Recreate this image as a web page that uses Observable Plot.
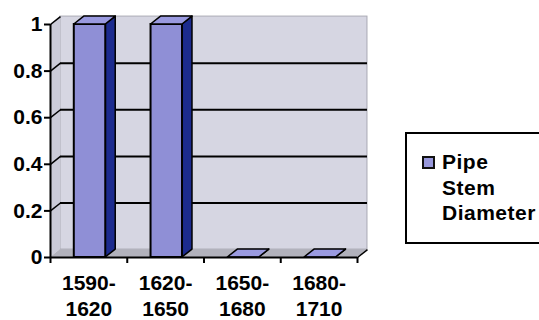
<!DOCTYPE html>
<html>
<head>
<meta charset="utf-8">
<script src="https://cdn.jsdelivr.net/npm/d3@7"></script>
<script src="https://cdn.jsdelivr.net/npm/@observablehq/plot@0.6"></script>
<style>
  html, body { margin: 0; padding: 0; background: #fff; }
  #wrap { position: relative; width: 539px; height: 320px; overflow: hidden; font-family: "Liberation Sans", Arial, sans-serif; }
  #legend { position: absolute; left: 405px; top: 132px; width: 150px; height: 108px; border: 2px solid #000; background: #fff; }
  #legend .sw { position: absolute; left: 15px; top: 22px; width: 9px; height: 9px; border: 2px solid #111; background: #9898dc; }
  #legend .tx { position: absolute; left: 35px; top: 15px; font-size: 21px; letter-spacing: 0.5px; font-weight: bold; line-height: 25.5px; color: #000; }
</style>
</head>
<body>
<div id="wrap"><div id="chart"></div>
<div id="legend"><div class="sw"></div><div class="tx">Pipe<br>Stem<br>Diameter</div></div>
</div>
<script>
const categories = ["1590-\n1620", "1620-\n1650", "1650-\n1680", "1680-\n1710"];
const values = [1, 1, 0, 0];
const yTicks = [0, 0.2, 0.4, 0.6, 0.8, 1];
const seriesName = "Pipe Stem Diameter";

// 3D depth offsets expressed in data units (x: category index, y: value)
const D = 0.13, E = 0.034;
const bars = values.map((v, i) => ({v, x1: i + 0.31, x2: i + 0.72}));

const sidePts = bars.flatMap((b, i) => [
  {k: i, x: b.x2, y1: 0, y2: b.v},
  {k: i, x: b.x2 + D, y1: E, y2: b.v + E}
]);
const topPts = bars.flatMap((b, i) => [
  {k: i, x: b.x1, y1: b.v, y2: b.v},
  {k: i, x: b.x1 + D, y1: b.v, y2: b.v + E},
  {k: i, x: b.x2, y1: b.v, y2: b.v + E},
  {k: i, x: b.x2 + D, y1: b.v + E, y2: b.v + E}
]);
const n = categories.length;
const floorPts = [
  {x: 0, y1: 0, y2: 0}, {x: D, y1: 0, y2: E}, {x: n, y1: 0, y2: E}, {x: n + D, y1: E, y2: E}
];
const leftWall = [{x: 0, y1: 0, y2: 1}, {x: D, y1: E, y2: 1 + E}];
const font = {fontSize: 21, fontWeight: "bold", fontFamily: "'Liberation Sans', Arial, sans-serif"};

const marks = [
  Plot.rect([0], {x1: () => D, x2: () => n + D, y1: () => E, y2: () => 1 + E, fill: "#d6d6e2", stroke: "#aaaab4", strokeWidth: 1}),
  Plot.areaY(leftWall, {x: "x", y1: "y1", y2: "y2", fill: "#cbcbd8"}),
  Plot.areaY(floorPts, {x: "x", y1: "y1", y2: "y2", fill: "#b2b2bc"}),
  Plot.ruleY(yTicks.filter(t => t > 0 && t < 1), {x1: () => D, x2: () => n + D, y: d => d + E, stroke: "#000", strokeWidth: 2}),
  Plot.link(yTicks.filter(t => t > 0), {x1: () => 0, y1: d => d, x2: () => D, y2: d => d + E, stroke: "#000", strokeWidth: 1.5}),
  Plot.areaY(sidePts, {x: "x", y1: "y1", y2: "y2", z: "k", fill: "#1c2b8e", stroke: "#000", strokeWidth: 1.5}),
  Plot.rect(bars, {x1: "x1", x2: "x2", y1: () => 0, y2: "v", fill: "#8f8fd6", stroke: "#000", strokeWidth: 2}),
  Plot.areaY(topPts, {x: "x", y1: "y1", y2: "y2", z: "k", fill: "#9a9ae0", stroke: "#000", strokeWidth: 1.5}),
  Plot.ruleX([0], {y1: () => 0, y2: () => 1, stroke: "#000", strokeWidth: 2}),
  Plot.ruleY([0], {x1: () => 0, x2: () => n, stroke: "#000", strokeWidth: 2}),
  Plot.link([0], {x1: () => n, y1: () => 0, x2: () => n + D, y2: () => E, stroke: "#000", strokeWidth: 1.5}),
  Plot.axisY({ticks: yTicks, tickFormat: d => String(d), tickSize: 6, tickPadding: 2, stroke: "#000", strokeWidth: 2, fill: "#000", ...font}),
  Plot.axisX({ticks: d3.range(n + 1), tickFormat: () => "", tickSize: 6, stroke: "#000", strokeWidth: 2}),
  Plot.text(categories, {x: (d, i) => i + 0.5, y: () => 0, text: d => d, dy: 15, lineAnchor: "top", lineHeight: 1.2, fill: "#000", ...font})
];

const chart = Plot.plot({
  width: 539,
  height: 320,
  marginLeft: 50,
  marginRight: 182,
  marginTop: 24,
  marginBottom: 63,
  x: {domain: [0, n], axis: null},
  y: {domain: [0, 1], axis: null},
  style: {fontFamily: "'Liberation Sans', Arial, sans-serif", fontSize: "21px", fontWeight: "bold", color: "#000", background: "transparent", overflow: "visible"},
  marks
});
document.getElementById("chart").appendChild(chart);
</script>
</body>
</html>
